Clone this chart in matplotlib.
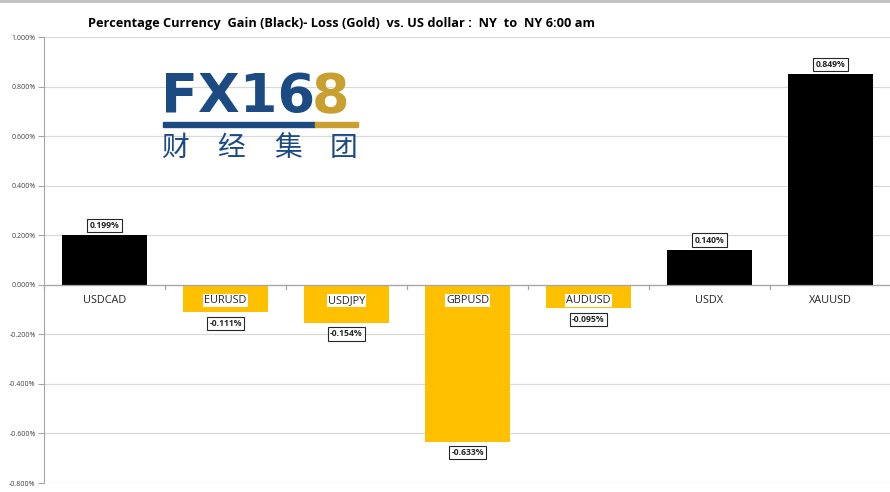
import matplotlib
matplotlib.use("Agg")
import matplotlib.pyplot as plt
from matplotlib.transforms import offset_copy
import matplotlib.patches as mpatches

categories = ["USDCAD", "EURUSD", "USDJPY", "GBPUSD", "AUDUSD", "USDX", "XAUUSD"]
values = [0.199, -0.111, -0.154, -0.633, -0.095, 0.140, 0.849]
value_labels = ["0.199%", "-0.111%", "-0.154%", "-0.633%", "-0.095%", "0.140%", "0.849%"]
yticks = [-0.8, -0.6, -0.4, -0.2, 0.0, 0.2, 0.4, 0.6, 0.8, 1.0]
ytick_labels = ["-0.800%", "-0.600%", "-0.400%", "-0.200%", "0.000%", "0.200%",
                "0.400%", "0.600%", "0.800%", "1.000%"]
title = "Percentage Currency  Gain (Black)- Loss (Gold)  vs. US dollar :  NY  to  NY 6:00 am"

GOLD = "#FFC000"
BLACK = "#000000"
BLUE = "#1B4B82"
LOGO_GOLD = "#C9A030"

plt.rcParams['font.family'] = ['Open Sans', 'DejaVu Sans']

fig = plt.figure(figsize=(8.9, 4.92), dpi=100)
ax = fig.add_axes([44/890, 1-483/492, 847/890, (483-37)/492])

x = list(range(len(categories)))
colors = [BLACK if v >= 0 else GOLD for v in values]
ax.bar(x, values, width=0.7, color=colors, zorder=2)

ax.set_xlim(-0.5, len(categories) - 0.5)
ax.set_ylim(-0.8, 1.0)
ax.set_yticks(yticks)
ax.set_yticklabels(ytick_labels, fontsize=5, color="#404040")
ax.yaxis.grid(True, color="#D9D9D9", linewidth=0.9, zorder=0)
ax.set_axisbelow(True)
ax.set_xticks([])
for s in ["top", "right", "bottom"]:
    ax.spines[s].set_visible(False)
ax.spines["left"].set_color("#A6A6A6")
ax.tick_params(axis="y", length=4, color="#A6A6A6", pad=2)

# zero line with category boundary ticks
ax.axhline(0, color="#A6A6A6", linewidth=0.9, zorder=3)
for b in range(len(categories) + 1):
    ax.plot([b - 0.5, b - 0.5], [0, -0.018], color="#A6A6A6", linewidth=0.9, zorder=3, clip_on=False)

cat_tr = offset_copy(ax.transData, fig=fig, x=0, y=-16, units="dots")
for i, (c, v) in enumerate(zip(categories, values)):
    bbox = dict(boxstyle="square,pad=0.1", fc="white", ec="none") if v < 0 else None
    ax.text(i, 0, c, transform=cat_tr, ha="center", va="center", fontsize=7.8,
            color="#262626", bbox=bbox, zorder=4)

for i, (v, lab) in enumerate(zip(values, value_labels)):
    off = 10 if v >= 0 else -11
    tr = offset_copy(ax.transData, fig=fig, x=0, y=off, units="dots")
    ax.text(i, v, lab, transform=tr, ha="center", va="center", fontsize=6.2,
            fontweight="bold", color="#262626", zorder=5,
            bbox=dict(boxstyle="square,pad=0.25", fc="white", ec="#262626", lw=0.8))

fig.text(341/890, 1-23/492, title, ha="center", va="center", fontsize=9.2,
         fontweight="bold", color="#000000")

# top border
fig.add_artist(plt.Line2D([0, 1], [1-1/492, 1-1/492], color="#BFBFBF", linewidth=2))

# logo
fig.text(161/890, 1-97/492, "FX16", ha="left", va="center", fontsize=39,
         fontweight="bold", color=BLUE, family=["DejaVu Sans"])
fig.text(312/890, 1-97/492, "8", ha="left", va="center", fontsize=39,
         fontweight="bold", color=LOGO_GOLD, family=["DejaVu Sans"])
fig.add_artist(mpatches.Rectangle((163/890, 1-127/492), 152/890, 5/492,
                                  transform=fig.transFigure, color=BLUE))
fig.add_artist(mpatches.Rectangle((315/890, 1-127/492), 43/890, 5/492,
                                  transform=fig.transFigure, color=LOGO_GOLD))
for k, ch in enumerate("财经集团"):
    fig.text((175 + k * 56.3)/890, 1-148/492, ch, ha="center", va="center", fontsize=20,
             color=BLUE, fontweight="medium", family=["Noto Sans CJK SC"])

fig.savefig("out.png", dpi=100)
